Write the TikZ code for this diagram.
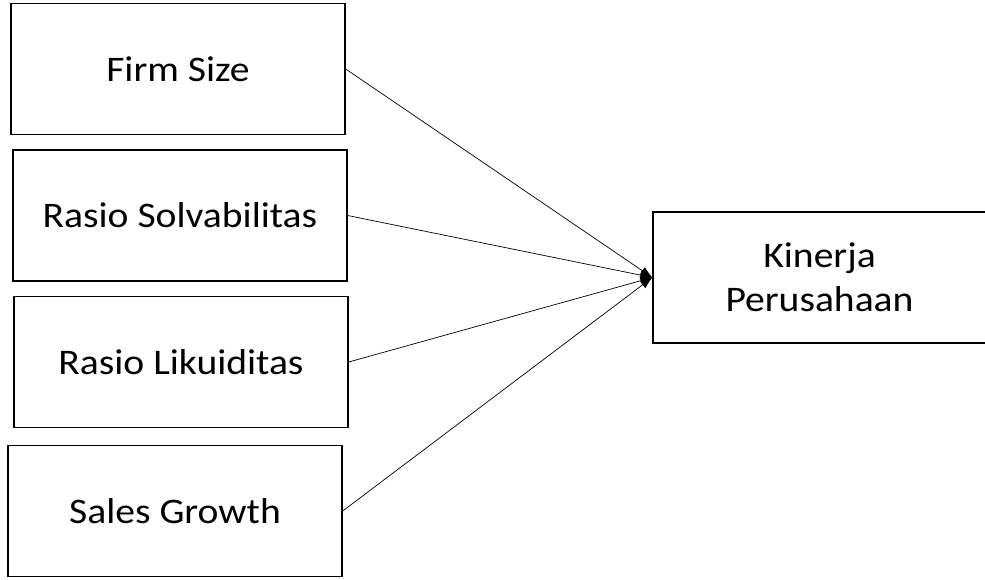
\documentclass[tikz,border=0pt]{standalone}
\usepackage{fontspec}
\setmainfont[FakeStretch=1.1]{Carlito}
\usepackage{tikz}
\usetikzlibrary{arrows.meta,positioning}

\begin{document}
\begin{tikzpicture}[x=1pt, y=-1pt,
    var/.style={rectangle, draw, line width=1.4pt, minimum width=334pt, minimum height=131pt, font=\fontsize{36}{44}\selectfont, align=center, inner sep=0pt},
    link/.style={-{Latex[length=12pt,width=9pt]}, line width=0.7pt}]

    \useasboundingbox (0,0) rectangle (985,579);

    % Independent variables
    \node[var] (fs) at (178,69) {Firm Size};
    \node[var] (rs) at (180,215.5) {Rasio Solvabilitas};
    \node[var] (rl) at (181,362) {Rasio Likuiditas};
    \node[var] (sg) at (175,511) {Sales Growth};

    % Dependent variable
    \node[var, minimum width=333pt] (kp) at (819.5,277.5) {Kinerja\\Perusahaan};

    % Connections
    \draw[link] (fs.east) -- (kp.west);
    \draw[link] (rs.east) -- (kp.west);
    \draw[link] (rl.east) -- (kp.west);
    \draw[link] (sg.east) -- (kp.west);
\end{tikzpicture}
\end{document}
